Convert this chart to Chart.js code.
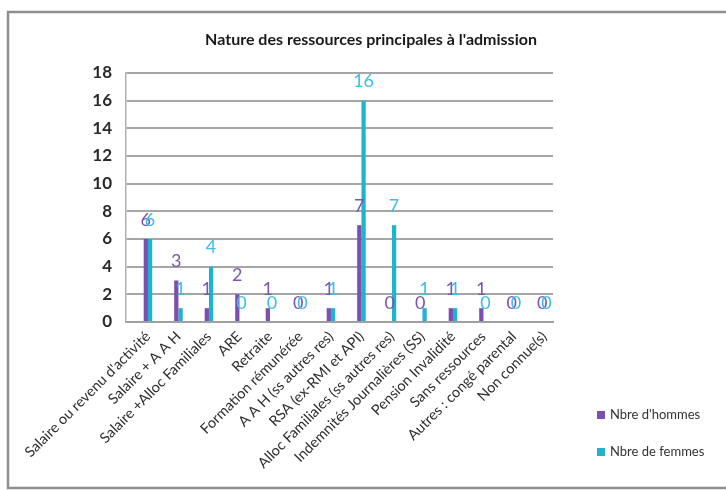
<!DOCTYPE html>
<html>
<head>
<meta charset="utf-8">
<script src="https://cdn.jsdelivr.net/npm/chart.js@4/dist/chart.umd.min.js"></script>
<style>
html,body{margin:0;padding:0;background:#fff;overflow:hidden;}
#wrap{width:726px;height:490px;position:relative;}
</style>
</head>
<body>
<div id="wrap"><canvas id="c" width="726" height="490"></canvas></div>
<script>
const title = "Nature des ressources principales à l'admission";
const categories = [
  "Salaire ou revenu d'activité",
  "Salaire + A A H",
  "Salaire +Alloc Familiales",
  "ARE",
  "Retraite",
  "Formation rémunérée",
  "A A H (ss autres res)",
  "RSA (ex-RMI et API)",
  "Alloc Familiales (ss autres res)",
  "Indemnités Journalières (SS)",
  "Pension Invalidité",
  "Sans ressources",
  "Autres : congé parental",
  "Non connue(s)"
];
const hommes = [6, 3, 1, 2, 1, 0, 1, 7, 0, 0, 1, 1, 0, 0];
const femmes = [6, 1, 4, 0, 0, 0, 1, 16, 7, 1, 1, 0, 0, 0];
const seriesNames = ["Nbre d'hommes", "Nbre de femmes"];
const yTicks = [0, 2, 4, 6, 8, 10, 12, 14, 16, 18];

const barColors = ["#7B4FAE", "#1FB3CE"];
const labelColors = ["#7D55B0", "#3DBDE9"];

const toPoints = arr => arr.map((v, i) => ({ x: i, y: v }));

const decor = {
  id: 'decor',
  beforeDraw(chart) {
    const ctx = chart.ctx;
    ctx.save();
    ctx.fillStyle = '#fff';
    ctx.fillRect(0, 0, chart.width, chart.height);
    ctx.strokeStyle = '#8f8f8f';
    ctx.lineWidth = 2.5;
    ctx.strokeRect(8, 12, 740, 476);
    ctx.restore();
  },
  afterDatasetsDraw(chart) {
    const ctx = chart.ctx;
    ctx.save();
    ctx.font = '18px Lato';
    ctx.textAlign = 'center';
    ctx.textBaseline = 'middle';
    chart.data.datasets.forEach((ds, di) => {
      const meta = chart.getDatasetMeta(di);
      ctx.fillStyle = labelColors[di];
      meta.data.forEach((bar, i) => {
        ctx.fillText(String(ds.data[i].y), bar.x, bar.y - 19);
      });
    });
    ctx.restore();
  },
  afterDraw(chart) {
    const ctx = chart.ctx;
    ctx.save();
    ctx.font = 'bold 16px Lato';
    ctx.fillStyle = '#1a1a1a';
    ctx.textAlign = 'center';
    ctx.textBaseline = 'middle';
    ctx.fillText(title, 371, 40);
    ctx.font = '13px Lato';
    ctx.textAlign = 'left';
    seriesNames.forEach((n, i) => {
      const y = 415 + i * 37;
      ctx.fillStyle = barColors[i];
      ctx.fillRect(597, y - 4, 8, 8);
      ctx.fillStyle = '#333';
      ctx.fillText(n, 610, y);
    });
    ctx.restore();
  }
};

new Chart(document.getElementById('c'), {
  type: 'bar',
  data: {
    datasets: [
      { label: seriesNames[0], data: toPoints(hommes), backgroundColor: barColors[0], categoryPercentage: 0.28, barPercentage: 1.0 },
      { label: seriesNames[1], data: toPoints(femmes), backgroundColor: barColors[1], categoryPercentage: 0.28, barPercentage: 1.0 }
    ]
  },
  options: {
    responsive: false,
    animation: false,
    layout: { padding: { left: 0, right: 173, top: 73, bottom: 0 } },
    plugins: { legend: { display: false }, title: { display: false }, tooltip: { enabled: false } },
    scales: {
      x: {
        type: 'linear',
        offset: false,
        min: -0.72,
        max: 13.28,
        afterFit(s) { s.height = 168; },
        afterBuildTicks(s) { s.ticks = categories.map((c, i) => ({ value: i })); },
        grid: { display: false, drawTicks: false, offset: false },
        border: { display: true, color: '#a0a0a0', width: 2 },
        ticks: {
          minRotation: 45, maxRotation: 45, padding: 6, color: '#2e2e2e',
          font: { family: 'Lato', size: 14.5 }, autoSkip: false,
          callback: v => categories[v]
        }
      },
      y: {
        min: 0, max: 18,
        afterFit(s) { s.width = 126; },
        afterBuildTicks(s) { s.ticks = yTicks.map(v => ({ value: v })); },
        grid: { color: '#a6a6a6', lineWidth: 2, drawTicks: false },
        border: { display: true, color: '#b0b0b0', width: 1.5 },
        ticks: { padding: 14, color: '#2a2a2a', font: { family: 'Lato', size: 17, weight: 'bold' } }
      }
    }
  },
  plugins: [decor]
});
</script>
</body>
</html>
